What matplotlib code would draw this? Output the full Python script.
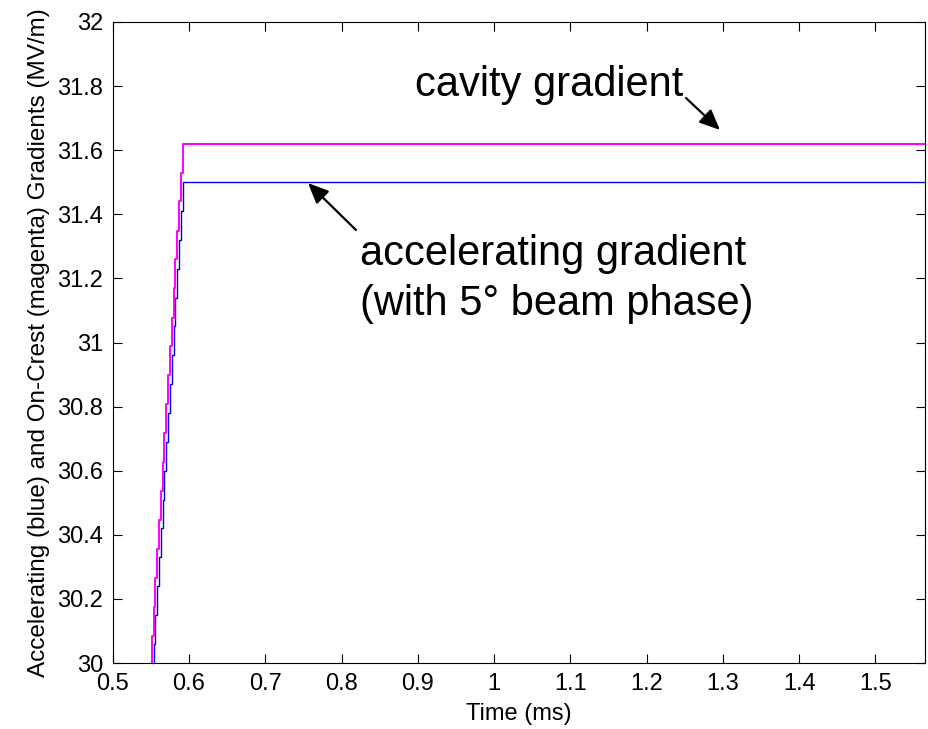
import numpy as np
import matplotlib
matplotlib.use("Agg")
import matplotlib.pyplot as plt
from matplotlib.ticker import FormatStrFormatter, MultipleLocator

plt.rcParams['font.family'] = ['Liberation Sans', 'DejaVu Sans']

# sampled gradients during the fill (ms, MV/m); flat top held to end of window
t_ms = [0.5487, 0.5511, 0.5535, 0.5559, 0.5583, 0.5607, 0.5631, 0.5655,
        0.5679, 0.5703, 0.5727, 0.5751, 0.5775, 0.5799, 0.5823, 0.5847,
        0.5871, 0.5895, 0.5919, 1.5650]
acc_grad = [29.88, 29.97, 30.06, 30.15, 30.24, 30.33, 30.42, 30.51,
            30.60, 30.69, 30.78, 30.87, 30.96, 31.05, 31.14, 31.23,
            31.32, 31.41, 31.50, 31.50]
cav_grad = [29.994, 30.085, 30.175, 30.265, 30.356, 30.446, 30.536, 30.627,
            30.717, 30.807, 30.898, 30.988, 31.078, 31.169, 31.259, 31.349,
            31.440, 31.530, 31.620, 31.620]

xticks = [0.5, 0.6, 0.7, 0.8, 0.9, 1.0, 1.1, 1.2, 1.3, 1.4, 1.5]

W, H = 929, 729
fig = plt.figure(figsize=(W / 100, H / 100), dpi=100)
ax = fig.add_axes([112.7 / W, 1 - 663 / H, (925 - 112.7) / W, (663 - 22) / H])

ax.plot(t_ms, acc_grad, color='#0000e0', lw=1.0, drawstyle='steps-post')
ax.plot(t_ms, cav_grad, color='#ff00ff', lw=1.4, drawstyle='steps-post')

ax.set_xlim(0.5, 1.565)
ax.set_ylim(30, 32)
ax.set_xticks(xticks)
ax.yaxis.set_major_locator(MultipleLocator(0.2))
ax.xaxis.set_major_formatter(FormatStrFormatter('%g'))
ax.yaxis.set_major_formatter(FormatStrFormatter('%g'))
ax.tick_params(direction='in', top=True, right=True, length=6.5, width=0.8,
               labelsize=17, pad=7)
for s in ax.spines.values():
    s.set_linewidth(0.8)

ax.set_xlabel('Time (ms)', fontsize=17, labelpad=6)
ax.set_ylabel('Accelerating (blue) and On-Crest (magenta) Gradients (MV/m)',
              fontsize=17.5, labelpad=5)

# annotations placed in figure pixels
def fx(p):
    return p / W

def fy(p):
    return 1 - p / H

fig.text(fx(415), fy(96), 'cavity gradient', fontsize=30, va='baseline')
fig.text(fx(360), fy(265), 'accelerating gradient', fontsize=30, va='baseline')
fig.text(fx(360), fy(315), '(with 5\u00b0 beam phase)', fontsize=30, va='baseline')

arrow = dict(arrowstyle='-|>,head_length=0.5,head_width=0.22', color='black',
             lw=1.6, mutation_scale=25, shrinkA=0, shrinkB=0)
ax.annotate('', xy=(fx(720), fy(130)), xytext=(fx(686), fy(98)),
            xycoords='figure fraction', textcoords='figure fraction',
            arrowprops=arrow)
ax.annotate('', xy=(fx(308), fy(183)), xytext=(fx(356), fy(230)),
            xycoords='figure fraction', textcoords='figure fraction',
            arrowprops=arrow)

fig.savefig('out.png', dpi=100)
